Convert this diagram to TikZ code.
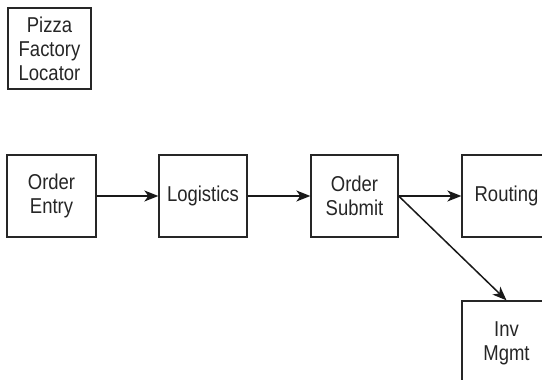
\documentclass[tikz,border=0pt]{standalone}
\usepackage{fontspec}
\setmainfont{Liberation Sans}[FakeStretch=0.86]
\usetikzlibrary{arrows.meta}
\begin{document}
\begin{tikzpicture}[x=1pt,y=1pt,
  box/.style={draw=black!85,line width=1.3pt,align=center,inner sep=0pt,
    font=\fontsize{21.5}{24}\selectfont,text=black!85},
  conn/.style={line width=1.5pt,draw=black!90,-{Stealth[length=14pt,width=11pt,inset=4pt]}}]
\useasboundingbox (0,0) rectangle (542,380);
\clip (0,0) rectangle (542,380);
\fill[white] (0,0) rectangle (542,380);
\node[box,minimum width=83pt,minimum height=81pt] (pizza) at (49.5,331.5) {Pizza\\Factory\\Locator};
\node[box,minimum width=89pt,minimum height=82pt] (entry) at (51.5,184) {Order\\Entry};
\node[box,minimum width=88pt,minimum height=82pt] (logi) at (203,184) {Logistics};
\node[box,minimum width=87pt,minimum height=82pt] (submit) at (354.5,184) {Order\\Submit};
\node[box,minimum width=89pt,minimum height=82pt] (route) at (506.5,184) {Routing};
\node[box,minimum width=89pt,minimum height=85pt] (inv) at (506.5,36.5) {Inv\\Mgmt};
\draw[conn] (entry) -- (logi);
\draw[conn] (logi) -- (submit);
\draw[conn] (submit) -- (route);
\draw[conn] (submit.east) -- (inv.north);
\end{tikzpicture}
\end{document}
